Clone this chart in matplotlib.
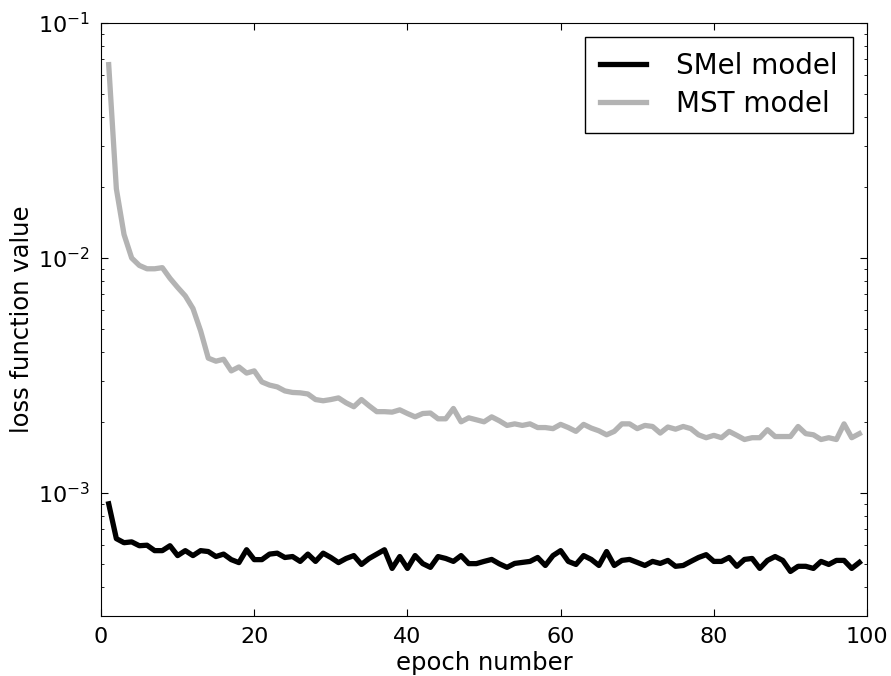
import matplotlib
matplotlib.use("Agg")
import matplotlib.pyplot as plt
import numpy as np

# loss per epoch
epochs = list(range(1, 100))

smel_loss = [
    0.00090, 0.00064, 0.000615, 0.00062, 0.000597, 0.00060, 0.000569, 0.000569, 0.000597, 0.000542,
    0.000569, 0.000542, 0.000569, 0.000564, 0.000537, 0.00055, 0.000521, 0.000506, 0.000574, 0.000521,
    0.000521, 0.00055, 0.000555, 0.000532, 0.000537, 0.000512, 0.00055, 0.000512, 0.000555, 0.000532,
    0.000506, 0.000527, 0.000542, 0.000497, 0.000527, 0.00055, 0.000574, 0.000478, 0.000537, 0.000478,
    0.000542, 0.000501, 0.000483, 0.000537, 0.000527, 0.000512, 0.000542, 0.000501, 0.000501, 0.000512,
    0.000522, 0.000500, 0.000483, 0.000502, 0.000507, 0.000512, 0.000532, 0.000492, 0.000542, 0.000569,
    0.000512, 0.000497, 0.000542, 0.000522, 0.000492, 0.000564, 0.000492, 0.000517, 0.000522, 0.000507,
    0.000492, 0.000512, 0.000502, 0.000517, 0.000488, 0.000492, 0.000512, 0.000532, 0.000547, 0.000512,
    0.000512, 0.000532, 0.000488, 0.000522, 0.000527, 0.000478, 0.000517, 0.000537, 0.000517, 0.000464,
    0.000488, 0.000488, 0.000478, 0.000512, 0.000497, 0.000517, 0.000517, 0.000478, 0.000507,
]

mst_loss = [
    0.0665, 0.0197, 0.0126, 0.0100, 0.0093, 0.0090, 0.0090, 0.0091, 0.0082, 0.0075,
    0.0069, 0.0061, 0.0049, 0.00375, 0.00364, 0.00371, 0.00331, 0.00344, 0.00324, 0.00331,
    0.00297, 0.00288, 0.00283, 0.00272, 0.00268, 0.00267, 0.00264, 0.00250, 0.00247, 0.00250,
    0.00254, 0.00242, 0.00233, 0.00250, 0.00235, 0.00222, 0.00222, 0.00221, 0.00226, 0.00218,
    0.00211, 0.00218, 0.00219, 0.00207, 0.00207, 0.00229, 0.00201, 0.00209, 0.00205, 0.00201,
    0.00211, 0.00203, 0.00194, 0.00197, 0.00194, 0.00197, 0.00190, 0.00190, 0.00188, 0.00196,
    0.00190, 0.00183, 0.00196, 0.00189, 0.00184, 0.00177, 0.00183, 0.00197, 0.00197, 0.00188,
    0.00194, 0.00192, 0.00180, 0.00191, 0.00187, 0.00192, 0.00188, 0.00177, 0.00172, 0.00176,
    0.00172, 0.00183, 0.00176, 0.00169, 0.00172, 0.00172, 0.00186, 0.00174, 0.00174, 0.00174,
    0.00192, 0.00179, 0.00177, 0.00169, 0.00172, 0.00169, 0.00197, 0.00172, 0.00179,
]

plt.rcParams['font.family'] = 'DejaVu Sans'
plt.rcParams['xtick.direction'] = 'in'
plt.rcParams['ytick.direction'] = 'in'
plt.rcParams['xtick.top'] = True
plt.rcParams['ytick.right'] = True
plt.rcParams['xtick.major.size'] = 5
plt.rcParams['ytick.major.size'] = 5
plt.rcParams['ytick.minor.size'] = 2.5
plt.rcParams['xtick.major.pad'] = 8
plt.rcParams['ytick.major.pad'] = 8

fig = plt.figure(figsize=(8.91, 6.76), dpi=100)
ax = fig.add_axes([0.1134, 0.0888, 0.8597, 0.8772])

ax.plot(epochs, smel_loss, color='black', linewidth=3.8, label='SMel model')
ax.plot(epochs, mst_loss, color='#b3b3b3', linewidth=3.8, label='MST model')

ax.set_yscale('log')
ax.set_xlim(0, 100)
ax.set_ylim(3e-4, 1e-1)
ax.tick_params(labelsize=16)
ax.xaxis.set_minor_locator(matplotlib.ticker.NullLocator())

ax.set_xlabel('epoch number', fontsize=17.5, labelpad=3)
ax.set_ylabel('loss function value', fontsize=17.5, labelpad=3)

leg = ax.legend(loc='upper right', fontsize=20, fancybox=False, framealpha=1,
                edgecolor='black', handlelength=1.65, handletextpad=1.1,
                borderpad=0.55, labelspacing=0.35)
leg.get_frame().set_linewidth(1.0)

fig.savefig('out.png', dpi=100)
